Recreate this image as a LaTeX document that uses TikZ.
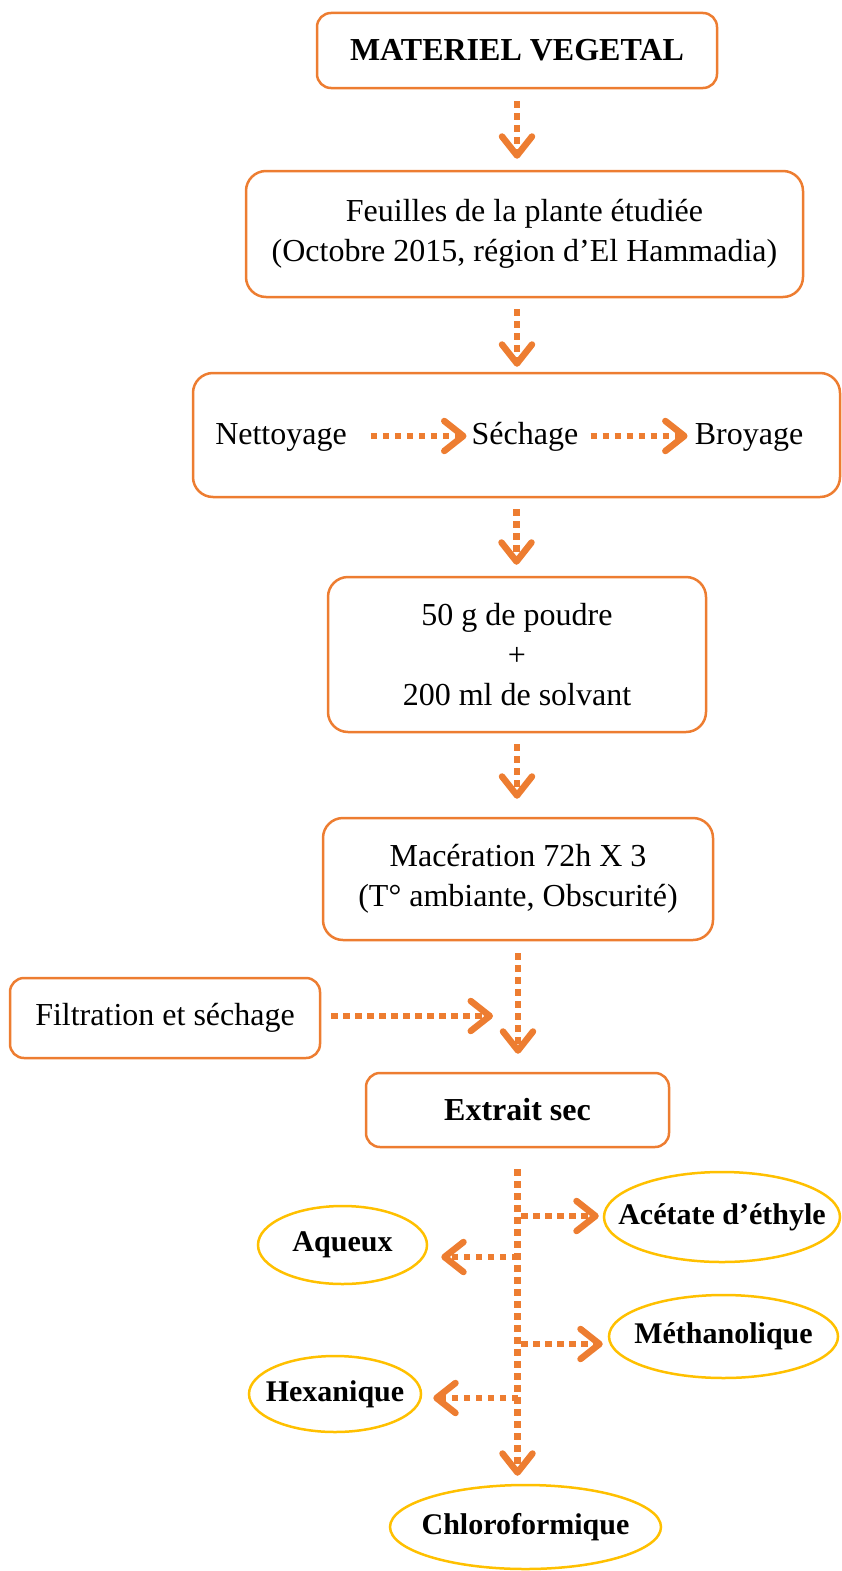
\documentclass[tikz,border=0pt]{standalone}
\usepackage{fontspec}
\setmainfont{Liberation Serif}
\usetikzlibrary{arrows.meta,shapes.geometric}
\definecolor{boxorange}{HTML}{ED7D31}
\definecolor{ellyellow}{HTML}{FFC000}

\begin{document}
\begin{tikzpicture}[x=1pt, y=-1pt,
    stepbox/.style={draw=boxorange, line width=2.5pt, rounded corners=14pt, align=center, inner sep=0pt, font=\fontsize{32}{40}\selectfont},
    extrbox/.style={draw=ellyellow, line width=2.5pt, ellipse, inner sep=0pt, font=\fontsize{30}{36}\selectfont\bfseries},
    word/.style={inner sep=0pt, text height=24pt, text depth=8pt, font=\fontsize{32}{40}\selectfont},
    flow/.style={draw=boxorange, line width=6.5pt, dash pattern=on 6.5pt off 5.5pt, -{Straight Barb[length=19pt, width=30pt, round]}}]
    \useasboundingbox (0,0) rectangle (842,1571);

    \node[stepbox, minimum width=400pt, minimum height=75pt, font=\fontsize{32}{40}\selectfont\bfseries] (mat) at (517,50.5) {MATERIEL VEGETAL};
    \node[stepbox, rounded corners=20pt, minimum width=557pt, minimum height=126pt] (feuil) at (524.5,234) {Feuilles de la plante étudiée\\(Octobre 2015, région d’El Hammadia)};
    \node[stepbox, rounded corners=20pt, minimum width=647pt, minimum height=124pt] (prep) at (516.5,435) {};
    \node[word] (net) at (281,436) {Nettoyage};
    \node[word] (sech) at (525,436) {Séchage};
    \node[word] (broy) at (749,436) {Broyage};
    \node[stepbox, rounded corners=20pt, minimum width=378pt, minimum height=155pt] (poudre) at (517,654.5) {50 g de poudre\\+\\200 ml de solvant};
    \node[stepbox, rounded corners=20pt, minimum width=390pt, minimum height=122pt] (mace) at (518,879) {Macération 72h X 3\\(T° ambiante, Obscurité)};
    \node[stepbox, minimum width=310pt, minimum height=80pt] (filt) at (165,1018) {Filtration et séchage};
    \node[stepbox, minimum width=303pt, minimum height=74pt, font=\fontsize{32}{40}\selectfont\bfseries] (extr) at (517.5,1110) {Extrait sec};

    \node[extrbox, minimum width=236pt, minimum height=90pt] (acet) at (722,1217) {\makebox[0pt]{Acétate d’éthyle}};
    \node[extrbox, minimum width=169pt, minimum height=78pt] (aqu) at (342.5,1245) {\makebox[0pt]{Aqueux}};
    \node[extrbox, minimum width=229pt, minimum height=83pt] (meth) at (723.5,1336.5) {\makebox[0pt]{Méthanolique}};
    \node[extrbox, minimum width=172pt, minimum height=76pt] (hexa) at (335,1394) {\makebox[0pt]{Hexanique}};
    \node[extrbox, minimum width=271pt, minimum height=84pt] (chloro) at (525.5,1527) {\makebox[0pt]{Chloroformique}};

    \coordinate (fjoin) at (493,1016);
    \coordinate (sp1) at (521,1216);
    \coordinate (sp2) at (518,1257);
    \coordinate (sp3) at (521,1344);
    \coordinate (sp4) at (518,1398);

    \draw[flow, shorten <=12pt, shorten >=11pt] (mat.south) -- (mat.south |- feuil.north);
    \draw[flow, shorten <=11pt, shorten >=5pt] (mat.south |- feuil.south) -- (mat.south |- prep.north);
    \draw[flow, shorten <=24pt, shorten >=5pt] (net.east) -- (sech.west);
    \draw[flow, shorten <=12pt, shorten >=7pt] (sech.east) -- (broy.west);
    \draw[flow, shorten <=11pt, shorten >=11pt] (prep.south) -- (prep.south |- poudre.north);
    \draw[flow, shorten <=11pt, shorten >=18pt] (poudre.south) -- (poudre.south |- mace.north);
    \draw[flow, shorten <=12pt, shorten >=18pt] (mace.south) -- (mace.south |- extr.north);
    \draw[flow, shorten <=10pt] (filt.east |- fjoin) -- (fjoin);

    \draw[flow, shorten <=21pt, shorten >=8pt] (extr.south) -- (extr.south |- chloro.north);
    \draw[flow, shorten >=4pt] (sp1) -- (sp1 -| acet.west);
    \draw[flow, shorten >=13pt] (sp2) -- (sp2 -| aqu.east);
    \draw[flow, shorten >=5pt] (sp3) -- (sp3 -| meth.west);
    \draw[flow, shorten >=11pt] (sp4) -- (sp4 -| hexa.east);
  \end{tikzpicture}
\end{document}
